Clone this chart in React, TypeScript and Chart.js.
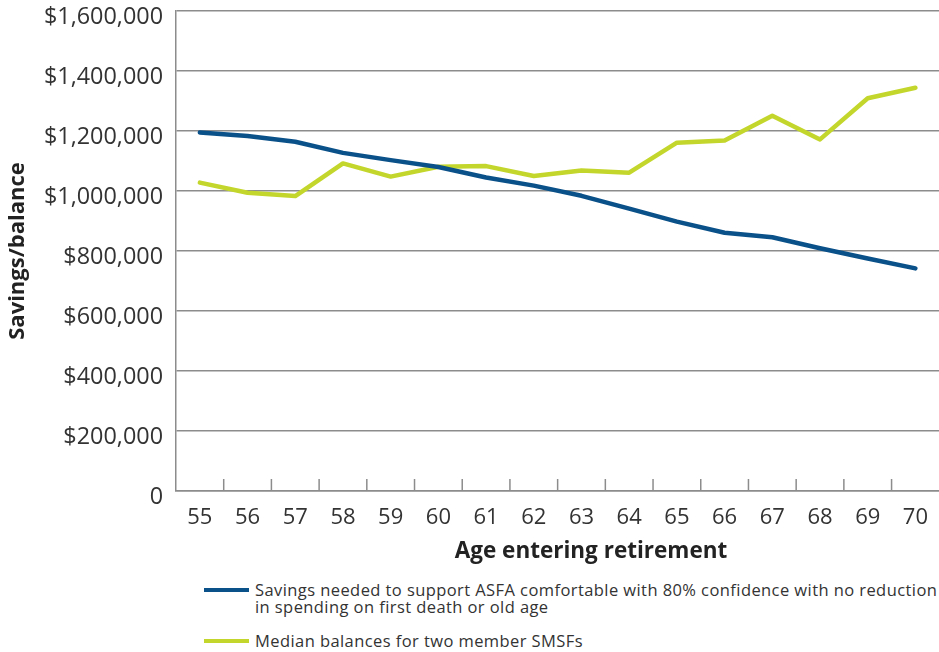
import React, { useEffect, useRef } from "react";
import { Chart, registerables } from "chart.js";

Chart.register(...registerables);

const ages = ["55","56","57","58","59","60","61","62","63","64","65","66","67","68","69","70"];
const savingsNeeded = [1195000,1183000,1164000,1127000,1103000,1080000,1045000,1018000,984000,941000,898000,861000,846000,809000,775000,742000];
const medianBalances = [1028000,994000,983000,1092000,1048000,1081000,1083000,1050000,1068000,1061000,1161000,1168000,1251000,1172000,1309000,1344000];
const seriesNames = [
  "Savings needed to support ASFA comfortable with 80% confidence with no reduction",
  "in spending on first death or old age",
  "Median balances for two member SMSFs",
];
const yTitle = "Savings/balance";
const xTitle = "Age entering retirement";

const BLUE = "#0b5189";
const GREEN = "#c3d62b";
const GRID = "#8c8c8c";
const TEXT = "#333333";
const FONT = "'Open Sans', 'Noto Sans', sans-serif";

const xTickMarks = {
  id: "xTickMarks",
  beforeDatasetsDraw(chart: any) {
    const xs = chart.scales.x;
    const ctx = chart.ctx;
    const bottom = chart.chartArea.bottom;
    ctx.save();
    ctx.strokeStyle = GRID;
    ctx.lineWidth = 1.5;
    for (let i = 1; i < ages.length; i++) {
      const px = (xs.getPixelForValue(i - 1) + xs.getPixelForValue(i)) / 2;
      ctx.beginPath();
      ctx.moveTo(px, bottom);
      ctx.lineTo(px, bottom - 12);
      ctx.stroke();
    }
    ctx.restore();
  },
};

export default function App() {
  const ref = useRef<HTMLCanvasElement | null>(null);
  useEffect(() => {
    if (!ref.current) return;
    const chart = new Chart(ref.current, {
      type: "line",
      data: {
        labels: ages,
        datasets: [
          {
            label: seriesNames[0] + " " + seriesNames[1],
            data: savingsNeeded,
            borderColor: BLUE,
            backgroundColor: BLUE,
            borderWidth: 4.5,
            pointRadius: 0,
            tension: 0,
            borderCapStyle: "round",
            borderJoinStyle: "round",
          },
          {
            label: seriesNames[2],
            data: medianBalances,
            borderColor: GREEN,
            backgroundColor: GREEN,
            borderWidth: 4.5,
            pointRadius: 0,
            tension: 0,
            borderCapStyle: "round",
            borderJoinStyle: "round",
          },
        ],
      },
      options: {
        responsive: false,
        animation: false,
        layout: { padding: { top: 11, left: 0, right: 0, bottom: 0 } },
        plugins: { legend: { display: false }, tooltip: { enabled: false } },
        scales: {
          x: {
            offset: true,
            grid: { display: false, drawTicks: false },
            border: { display: true, color: GRID, width: 1.5 },
            ticks: { color: TEXT, font: { family: FONT, size: 22 }, padding: 14, maxRotation: 0, autoSkip: false },
            afterFit(scale: any) { scale.height = 79; },
          },
          y: {
            min: 0,
            max: 1600000,
            grid: { color: GRID, lineWidth: 1.5, drawTicks: false },
            border: { display: true, color: GRID, width: 1.5 },
            ticks: {
              stepSize: 200000,
              color: TEXT,
              padding: 13,
              labelOffset: 6,
              font: { family: FONT, size: 23.4, lineHeight: 0.9 },
              callback: (v: any) => (v === 0 ? "0" : "$" + Number(v).toLocaleString("en-US")),
            },
            title: { display: true, text: yTitle, color: "#222", font: { family: FONT, size: 22, weight: "bold" }, padding: { top: 5, bottom: 0 } },
            afterFit(scale: any) {
              scale.width = 176;
              scale.paddingTop = 0;
              scale.paddingBottom = 0;
            },
          },
        },
      },
      plugins: [xTickMarks],
    });
    return () => chart.destroy();
  }, []);

  const legendText: React.CSSProperties = {
    position: "absolute",
    left: 255,
    fontFamily: FONT,
    fontSize: 16.5,
    lineHeight: "17px",
    letterSpacing: "0.42px",
    color: TEXT,
    whiteSpace: "nowrap",
  };
  const swatch = (color: string, top: number): React.CSSProperties => ({
    position: "absolute",
    left: 204,
    top,
    width: 45,
    height: 4,
    background: color,
  });

  return (
    <div style={{ position: "fixed", left: 0, top: 0, width: 939, height: 652, overflow: "hidden", background: "#fff" }}>
      <canvas ref={ref} width={942} height={570} style={{ position: "absolute", left: 0, top: 0, width: 942, height: 570 }} />
      <div
        style={{
          position: "absolute",
          left: 391,
          top: 535,
          width: 400,
          textAlign: "center",
          fontFamily: FONT,
          fontSize: 22.5,
          fontWeight: "bold",
          lineHeight: "30px",
          color: "#222",
          whiteSpace: "nowrap",
        }}
      >
        {xTitle}
      </div>
      <div style={swatch(BLUE, 588)} />
      <div style={{ ...legendText, top: 581 }}>
        {seriesNames[0]}
        <br />
        {seriesNames[1]}
      </div>
      <div style={swatch(GREEN, 639)} />
      <div style={{ ...legendText, top: 632 }}>{seriesNames[2]}</div>
    </div>
  );
}
